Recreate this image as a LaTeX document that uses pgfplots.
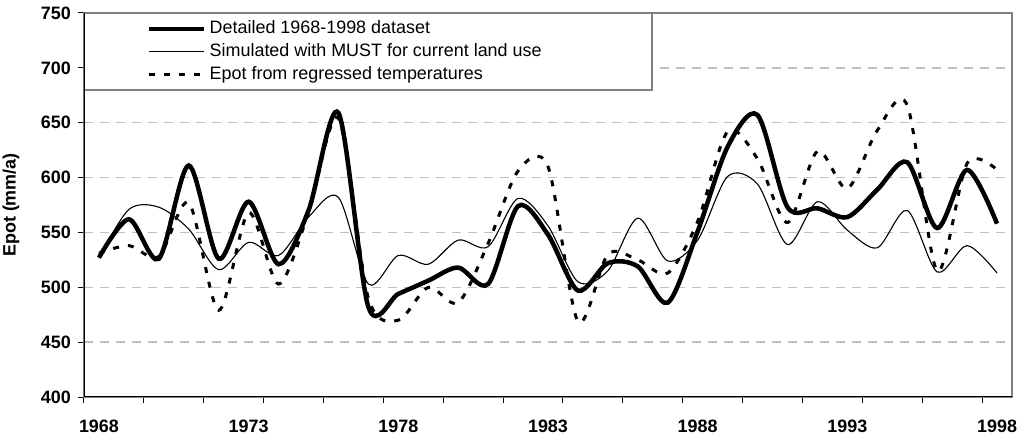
\documentclass[border=0pt]{standalone}
\usepackage{pgfplots}
\pgfplotsset{compat=1.18}
\usepackage{fontspec}
\setmainfont{Liberation Sans}
\definecolor{gridgray}{RGB}{192,192,192}
\definecolor{boxgray}{RGB}{128,128,128}
\pgfplotstableread{
year detailed simulated regressed
1968 527 527 531
1969 562 571 538
1970 526 573 528
1971 611 553 577
1972 526 516 479
1973 578 541 568
1974 521 529 503
1975 570 564 568
1976 659 582 654
1977 482 503 490
1978 494 529 470
1979 506 521 500
1980 518 543 486
1981 503 537 540
1982 574 581 606
1983 548 556 610
1984 497 505 469
1985 522 515 530
1986 519 563 525
1987 486 524 513
1988 551 543 560
1989 628 601 642
1990 657 594 617
1991 573 539 559
1992 572 578 624
1993 564 552 590
1994 589 536 643
1995 614 570 666
1996 554 514 515
1997 607 538 613
1998 558 513 607
}\epot
\begin{document}
\begin{tikzpicture}
\useasboundingbox (-84bp,-47bp) rectangle (940bp,397bp);
\begin{axis}[
  scale only axis, width=928bp, height=384bp,
  xmin=1967.5, xmax=1998.5, ymin=400, ymax=750,
  ytick={400,450,...,750},
  xtick={1967.5,1969.5,...,1997.5}, xticklabels={},
  extra x ticks={1968,1973,1978,1983,1988,1993,1998},
  extra x tick style={major tick length=0pt, grid=none},
  tick align=outside, major tick length=6bp, tick pos=left,
  tick style={black, line width=1bp},
  ymajorgrids, grid style={gridgray, line width=1.3bp, dash pattern=on 9bp off 7bp},
  axis line style={boxgray, line width=1.2bp},
  /pgf/number format/assume math mode=true,
  /pgf/number format/1000 sep={},
  tick label style={font=\fontsize{18}{21}\selectfont\bfseries},
  yticklabel style={anchor=east, inner xsep=0pt, xshift=-7bp},
  xticklabel style={anchor=north, inner ysep=0pt, yshift=-23bp},
  ylabel={Epot (mm/a)},
  ylabel style={font=\fontsize{18}{21}\selectfont\bfseries, at={(axis description cs:-0.0787,0.5)}, anchor=center},
  legend style={draw=none, fill=none, inner sep=0pt, at={(axis description cs:0.0679,0.984)}, anchor=north west,
    font=\fontsize{18}{21}\selectfont, row sep=4bp, column sep=2bp,
    nodes={inner sep=1bp, text height=13bp, text depth=4bp}},
  legend cell align=left,
  reverse legend,
  legend image code/.code={\draw[#1] (0bp,0bp) -- (55bp,0bp);},
]
\draw[boxgray, line width=1.2bp, fill=white] (rel axis cs:0,1) rectangle (rel axis cs:0.612,0.7995);
\addplot[black, line width=3bp, smooth, dash pattern=on 6bp off 9bp] table[x=year, y=regressed] {\epot};
\addlegendentry{Epot from regressed temperatures}
\addplot[black, line width=1.1bp, smooth] table[x=year, y=simulated] {\epot};
\addlegendentry{Simulated with MUST for current land use}
\addplot[black, line width=4.5bp, smooth] table[x=year, y=detailed] {\epot};
\addlegendentry{Detailed 1968-1998 dataset}
\draw[black, line width=1.5bp] (rel axis cs:0,1) -- (rel axis cs:0,0) -- (rel axis cs:1,0);
\end{axis}
\end{tikzpicture}
\end{document}
